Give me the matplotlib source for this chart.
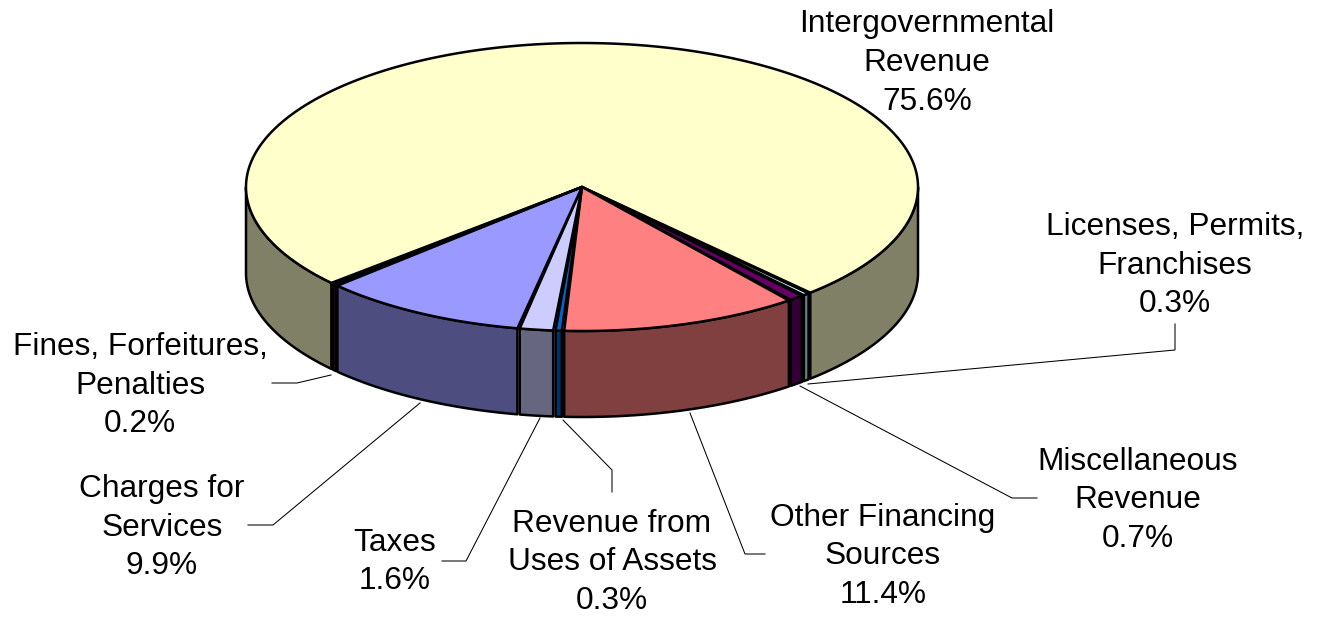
import numpy as np
import matplotlib
matplotlib.use("Agg")
import matplotlib.pyplot as plt
from matplotlib.patches import Polygon

plt.rcParams['font.family'] = ['Liberation Sans', 'DejaVu Sans']

# slices, clockwise from the right hand side of the pie
names = ['Licenses, Permits,\nFranchises', 'Miscellaneous\nRevenue', 'Other Financing\nSources',
         'Revenue from\nUses of Assets', 'Taxes', 'Charges for\nServices',
         'Fines, Forfeitures,\nPenalties', 'Intergovernmental\nRevenue']
shares = [0.3, 0.7, 11.4, 0.3, 1.6, 9.9, 0.2, 75.6]
top_colors = ['#CCFFFF', '#660066', '#FF8080', '#0066CC', '#CCCCFF', '#9999FF', '#993366', '#FFFFCC']
side_colors = ['#668080', '#330033', '#804040', '#003366', '#666680', '#4D4D80', '#4D1A33', '#808066']

# label centres and leader lines in pixels
label_xy = [(927, 63), (1175, 265.5), (1138, 500.5), (883, 556.5), (612, 562.5), (395, 562), (162, 527.5), (140, 385.5)]
label_xy = label_xy[1:] + label_xy[:1]
leaders = [[(1175, 324), (1175, 350), (808, 384)],
           [(1037, 498), (1012, 498), (800, 386)],
           [(765, 554), (745, 554), (690, 413)],
           [(612, 492), (612, 470), (563, 420)],
           [(442, 561), (466, 561), (540, 418)],
           [(248, 525), (273, 525), (420, 403)],
           [(272, 383), (297, 383), (331, 375)]]

cx, cy = 582, 187
rx, ry = 336, 144
depth = 86
start = 47.6
gap = 0.4  # small split between slices, shows up as the doubled black edges
edge_w = 1.8

fig = plt.figure(figsize=(13.22, 6.18), dpi=100)
ax = fig.add_axes([0, 0, 1, 1])
ax.set_xlim(0, 1322)
ax.set_ylim(618, 0)
ax.axis('off')


def rim(a, b):
    t = np.radians(np.linspace(a, b, max(int(abs(b - a) * 2), 2) + 1))
    return cx + rx * np.cos(t), cy + ry * np.sin(t)


def wall(a, b, color):
    x, y = rim(a, b)
    px = np.r_[x, x[::-1]]
    py = np.r_[y, y[::-1] + depth]
    ax.add_patch(Polygon(np.c_[px, py], closed=True, fc=color, ec='black', lw=edge_w, joinstyle='round'))


spans = []
a = start
for s in shares[:-1]:
    spans.append((a, a + s * 3.6))
    a += s * 3.6 + gap
# the big slice takes what is left of the circle
spans.append((a, start + 360 - gap))

# the sides that can be seen, lower half only
for i, (a, b) in enumerate(spans):
    if b > 360:
        wall(a, 180, side_colors[i])
        wall(360, b, side_colors[i])
    else:
        wall(a, b, side_colors[i])

# top of the pie
for i in [7, 0, 1, 2, 3, 4, 5, 6]:
    x, y = rim(*spans[i])
    ax.add_patch(Polygon(np.c_[np.r_[cx, x], np.r_[cy, y]], closed=True, fc=top_colors[i],
                         ec='black', lw=edge_w, joinstyle='round'))

for pts in leaders:
    pts = np.array(pts)
    ax.plot(pts[:, 0], pts[:, 1], color='black', lw=0.75, zorder=1)

for name, share, (x, y) in zip(names, shares, label_xy):
    ax.text(x, y, f'{name}\n{share}%', ha='center', va='center', fontsize=22.8,
            linespacing=1.38, color='black')

fig.savefig('out.png', dpi=100, facecolor='white')
